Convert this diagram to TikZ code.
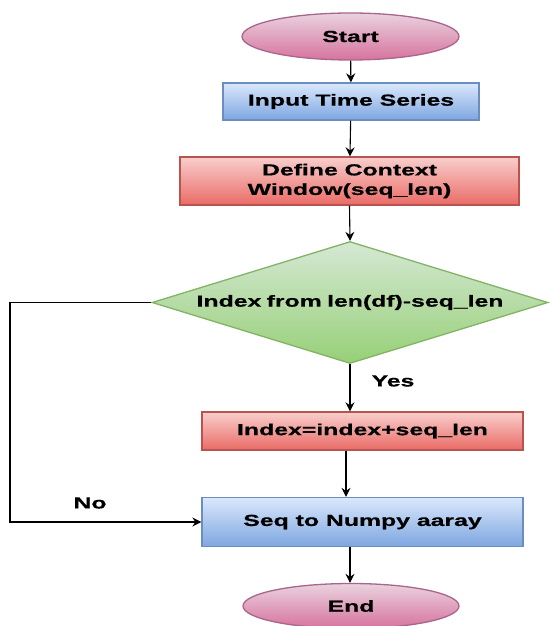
\documentclass[tikz,border=0pt]{standalone}
\usepackage{fontspec}
\setmainfont{Liberation Sans}[FakeStretch=1.55, BoldFeatures={FakeStretch=1.55, FakeBold=0.6}]
\usetikzlibrary{shapes.geometric,arrows.meta}

% draw.io-like palette: light top / saturated bottom / stroke
\definecolor{pinkTop}{HTML}{EAD2DF}
\definecolor{pinkBot}{HTML}{D6739D}
\definecolor{pinkLine}{HTML}{A8668D}
\definecolor{blueTop}{HTML}{DAE8FC}
\definecolor{blueBot}{HTML}{7EA6E0}
\definecolor{blueLine}{HTML}{6C8EBF}
\definecolor{redTop}{HTML}{F8CECC}
\definecolor{redBot}{HTML}{EA6B66}
\definecolor{redLine}{HTML}{B85450}
\definecolor{greenTop}{HTML}{D5E8D4}
\definecolor{greenBot}{HTML}{97D077}
\definecolor{greenLine}{HTML}{82B366}

\tikzset{
  base/.style={font=\bfseries\fontsize{16}{19.5}\selectfont, text=black, inner sep=0pt, line width=1.3pt},
  terminal/.style={base, ellipse, draw=pinkLine, top color=pinkTop, bottom color=pinkBot},
  bluebox/.style={base, rectangle, draw=blueLine, top color=blueTop, bottom color=blueBot},
  redbox/.style={base, rectangle, draw=redLine, top color=redTop, bottom color=redBot, align=center},
  decision/.style={base, diamond, shape aspect=3.25, draw=greenLine, top color=greenTop, bottom color=greenBot},
  flow/.style={line width=1.1pt, -{Stealth[length=9pt,width=9pt,inset=3pt]}},
  tag/.style={font=\bfseries\fontsize{16}{19.5}\selectfont, inner sep=0pt}
}

\begin{document}
\begin{tikzpicture}[x=1pt,y=-1pt]
\useasboundingbox (0,0) rectangle (549,626);

% process steps
\node[terminal, minimum width=217pt, minimum height=47pt] (start) at (350.5,36.5) {Start};
\node[bluebox, minimum width=256pt, minimum height=37pt] (input) at (351,101.5) {Input Time Series};
\node[redbox, minimum width=339pt, minimum height=48pt] (ctx) at (349.5,181) {Define Context\\Window(seq\_len)};
\node[decision, minimum width=396pt, minimum height=122pt, text width=330pt, align=center] (dec) at (350,302.5) {Index from len(df)-seq\_len};
\node[redbox, minimum width=321pt, minimum height=38pt] (upd) at (362.5,431) {Index=index+seq\_len};
\node[bluebox, minimum width=321pt, minimum height=49pt] (conv) at (362.5,522) {Seq to Numpy aaray};
\node[terminal, minimum width=216pt, minimum height=45pt] (stop) at (351,606) {End};

% branch labels
\node[tag] (yes) at (393,381) {Yes};
\node[tag] (no) at (90,503) {No};

% helper columns
\coordinate (rail) at (10,0);
\coordinate (mid) at (346,0);

% connectors
\draw[flow] (start) -- (input);
\draw[flow] (input) -- (ctx);
\draw[flow] (ctx.south) -- (dec.north);
\draw[flow] (dec.south) -- (dec.south |- upd.north);
\draw[flow] (mid |- upd.south) -- (mid |- conv.north);
\draw[flow] (dec.south |- conv.south) -- (dec.south |- stop.north);
\draw[flow] (dec.west) -| (rail |- conv.west) -- (conv.west);
\end{tikzpicture}
\end{document}
